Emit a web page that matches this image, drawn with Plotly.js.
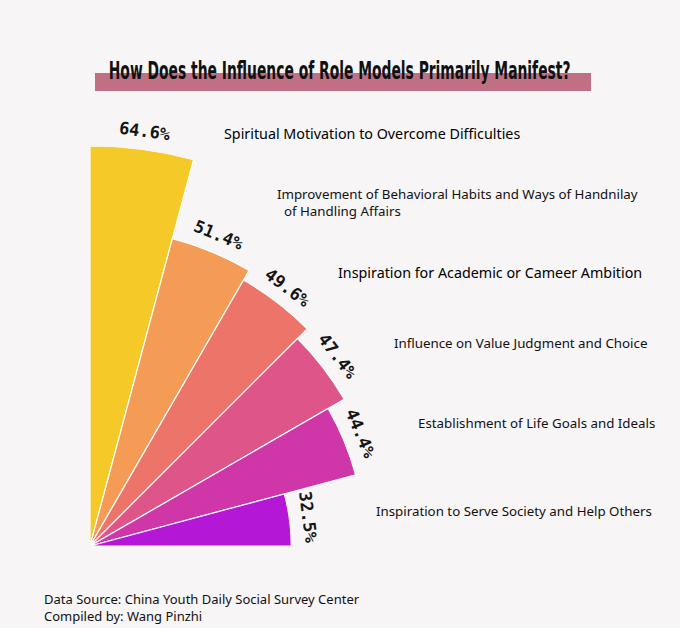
<!DOCTYPE html>
<html>
<head>
<meta charset="utf-8">
<script src="https://cdn.plot.ly/plotly-3.0.1.min.js"></script>
<style>
  html, body { margin: 0; padding: 0; background: #F7F5F6; }
  #chart { width: 680px; height: 628px; }
</style>
</head>
<body>
<div id="chart"></div>
<script>
// ---- data ----
const categories = [
  "Spiritual Motivation to Overcome Difficulties",
  "Improvement of Behavioral Habits and Ways of Handnilay<br>&nbsp;&nbsp;of Handling Affairs",
  "Inspiration for Academic or Cameer Ambition",
  "Influence on Value Judgment and Choice",
  "Establishment of Life Goals and Ideals",
  "Inspiration to Serve Society and Help Others"
];
const values = [64.6, 51.4, 49.6, 47.4, 44.4, 32.5];
const valueLabels = ["64.6%", "51.4%", "49.6%", "47.4%", "44.4%", "32.5%"];
const titleText = "How Does the Influence of Role Models Primarily Manifest?";
const sourceText = "Data Source: China Youth Daily Social Survey Center<br>Compiled by: Wang Pinzhi";

// ---- styles / layout ----
const colors = ["#F5C928", "#F49B55", "#EC7469", "#DE5589", "#CF36A8", "#B417D6"];
const W = 680, H = 628;
const px = x => x / W;
const py = y => 1 - y / H;
// category label placement (left x, centre y in pixels)
const labelPos = [[222,133],[275,202],[336,272],[392,343],[416,423],[374,511]];
const labelStrong = [true,false,true,false,false,false];

const n = values.length;
const step = 90 / n;
const thetas = values.map((v, i) => 90 - step * (i + 0.5));
const rMax = Math.max(...values);
// polar frame: pivot at (90,546) px, outer radius 400 px
const pivotX = 90, pivotY = 546, Rpx = 400;
const dom = { x: [px(pivotX), px(pivotX + Rpx)], y: [py(pivotY), py(pivotY - Rpx)] };
// cartesian overlay sharing the same scale, but larger so labels stay inside
const ext = 1.25;
const domC = { x: [px(pivotX), px(pivotX + Rpx * ext)], y: [py(pivotY), py(pivotY - Rpx * ext)] };

const traces = [
  {
    type: 'barpolar',
    r: values,
    theta: thetas,
    width: values.map(() => step),
    marker: { color: colors, line: { color: '#FFFFFF', width: 1.2 } },
    hoverinfo: 'skip',
    showlegend: false
  },
  {
    type: 'scatter', x: [], y: [], xaxis: 'x', yaxis: 'y',
    hoverinfo: 'skip', showlegend: false
  }
];

const annotations = [];
const off = 3.0;
values.forEach((v, i) => {
  const t = thetas[i] * Math.PI / 180;
  annotations.push({
    xref: 'x', yref: 'y',
    x: (v + off) * Math.cos(t), y: (v + off) * Math.sin(t),
    text: valueLabels[i], showarrow: false,
    textangle: 90 - thetas[i],
    xanchor: 'center', yanchor: 'middle',
    font: { family: 'DejaVu Sans Mono', size: 17, color: '#151515', weight: 'bold' }
  });
});
categories.forEach((c, i) => {
  annotations.push({
    xref: 'paper', yref: 'paper',
    x: px(labelPos[i][0]), y: py(labelPos[i][1]),
    text: c, showarrow: false, align: 'left',
    xanchor: 'left', yanchor: 'middle',
    font: { family: 'Noto Sans', size: labelStrong[i] ? 14.3 : 13.3, color: labelStrong[i] ? '#000' : '#111' }
  });
});
annotations.push({
  xref: 'paper', yref: 'paper', x: px(339), y: py(71),
  text: titleText, showarrow: false, xanchor: 'center', yanchor: 'middle',
  font: { family: 'DejaVu Sans Condensed, Liberation Sans Narrow, sans-serif', size: 24, color: '#111', weight: 'bold' }
});
annotations.push({
  xref: 'paper', yref: 'paper', x: px(42), y: py(607),
  text: sourceText, showarrow: false, align: 'left', xanchor: 'left', yanchor: 'middle',
  font: { family: 'Noto Sans', size: 13, color: '#111' }
});

const layout = {
  width: W, height: H,
  margin: { l: 0, r: 0, t: 0, b: 0 },
  paper_bgcolor: '#F7F5F6',
  plot_bgcolor: 'rgba(0,0,0,0)',
  showlegend: false,
  polar: {
    domain: dom,
    sector: [0, 90],
    bgcolor: 'rgba(0,0,0,0)',
    bargap: 0,
    radialaxis: { visible: false, range: [0, rMax] },
    angularaxis: { visible: false, showgrid: false, showline: false, ticks: '', showticklabels: false }
  },
  xaxis: { domain: domC.x, range: [0, rMax * ext], visible: false, fixedrange: true },
  yaxis: { domain: domC.y, range: [0, rMax * ext], visible: false, fixedrange: true },
  shapes: [{
    type: 'rect', xref: 'paper', yref: 'paper', layer: 'below',
    x0: px(95), x1: px(591), y0: py(91), y1: py(73),
    fillcolor: '#C07085', line: { width: 0 }
  }],
  annotations: annotations
};

Plotly.newPlot('chart', traces, layout, { staticPlot: true, displayModeBar: false }).then(() => {
  // squeeze the title horizontally to mimic the condensed headline face
  document.querySelectorAll('text.annotation-text').forEach(el => {
    if (el.textContent === titleText) {
      const bb = el.getBBox();
      const target = 462;
      const sx = target / bb.width;
      const cx = bb.x + bb.width / 2;
      el.setAttribute('transform', `translate(${cx},0) scale(${sx},1) translate(${-cx},0)`);
    }
  });
});
</script>
</body>
</html>
